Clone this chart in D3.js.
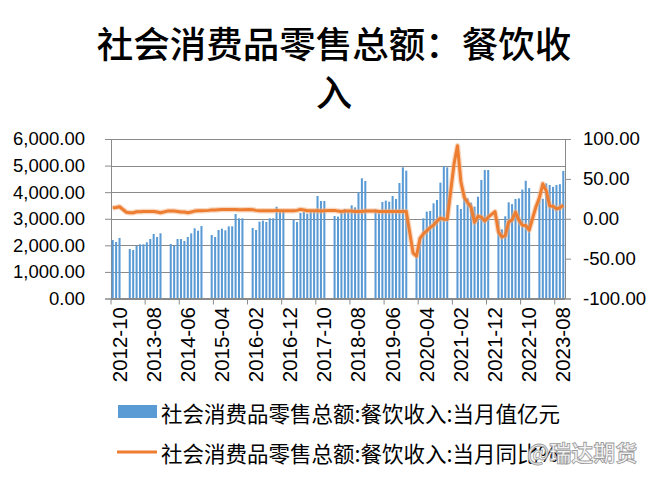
<!DOCTYPE html>
<html><head><meta charset="utf-8">
<script src="https://cdn.jsdelivr.net/npm/d3@7"></script>
<style>body{margin:0;background:#fff} svg{display:block}</style>
</head><body>
<svg id="c" width="666" height="480"></svg>
<script>
// Monthly categories 2012-10 .. 2023-10
const categories = d3.timeMonth.range(new Date(2012, 9, 1), new Date(2023, 10, 1)).map(d3.timeFormat("%Y-%m"));
const tickLabels = ["2012-10","2013-08","2014-06","2015-04","2016-02","2016-12","2017-10","2018-08","2019-06","2020-04","2021-02","2021-12","2022-10","2023-08"];
const leftTicks = [0, 1000, 2000, 3000, 4000, 5000, 6000];
const rightTicks = [-100, -50, 0, 50, 100];

// 当月值 亿元 (Jan/Feb not published as monthly values)
const monthlyValue = [
  2200, 2125, 2276,
  null, null, 1862, 1825, 1975, 2038, 2038, 2113, 2238, 2426, 2314, 2452,
  null, null, 2050, 1988, 2238, 2238, 2163, 2314, 2452, 2640, 2552, 2727,
  null, null, 2389, 2314, 2577, 2627, 2564, 2715, 2715, 3179, 3016, 3016,
  null, null, 2652, 2577, 2890, 2928, 2878, 3016, 3016, 3452, 3267, 3267,
  null, null, 2953, 2878, 3217, 3254, 3192, 3267, 3267, 3856, 3668, 3668,
  null, null, 3104, 3079, 3217, 3367, 3292, 3505, 3430, 3994, 4521, 4420,
  null, null, 3354, 3204, 3630, 3680, 3643, 3856, 3743, 4345, 4934, 4809,
  null, null, 1620, 2320, 3016, 3267, 3292, 3580, 3706, 4358, 4985, 4935,
  null, null, 3517, 3367, 3919, 3768, 3605, 3455, 3831, 4458, 4834, 4834,
  null, null, 2940, 2603, 3092, 3617, 3551, 3745, 3766, 4097, 4428, 4152,
  null, null, 3730, 3750, 4330, 4270, 4200, 4270, 4300, 4800
];
// 当月同比 %
const yoyPct = [
  13.8, 14.2, 15.1,
  null, 8.2, 7.5, 7.5, 8.8, 8.8, 9.2, 9.2, 9.2, 9.2, 8.4, 7.5,
  null, 9.6, 9.6, 9.6, 9.2, 8.4, 8.4, 7.5, 8.4, 9.6, 10.0, 10.0,
  null, 10.5, 10.9, 10.9, 11.3, 11.7, 11.7, 11.7, 11.7, 11.7, 11.3, 11.3,
  null, 11.7, 11.3, 10.5, 10.0, 10.0, 10.0, 10.0, 10.0, 10.5, 10.0, 10.0,
  null, 10.0, 10.0, 10.5, 11.7, 10.9, 10.0, 10.0, 10.0, 10.0, 9.6, 10.0,
  null, 10.5, 10.5, 9.6, 9.2, 9.6, 9.6, 9.6, 9.2, 9.2, 9.2, 9.6,
  null, 9.7, 9.6, 9.2, 9.2, 9.2, 9.2, 9.2, 9.2, 9.2, 9.2, 9.2,
  null, -43.1, -46.8, -25.0, -19.0, -15.2, -11.0, -8.0, -3.0, 0.8, -0.6, -0.6,
  null, 68.9, 91.6, 46.4, 26.6, 20.2, 14.3, -4.5, 3.1, 2.0, -2.7, 2.0,
  null, 8.9, -16.4, -22.7, -21.1, -4.0, -1.5, 8.4, -1.7, -8.1, -8.4, -14.1,
  null, 15.0, 26.3, 43.8, 35.1, 16.1, 15.8, 12.4, 13.8, 17.1
];

const barName = "社会消费品零售总额:餐饮收入:当月值亿元";
const lineName = "社会消费品零售总额:餐饮收入:当月同比%";
const titleLines = ["社会消费品零售总额：餐饮收", "入"];

const svg = d3.select("#c");
const L = 111, R = 565, T = 139, B = 298.5;
const x = d3.scaleBand().domain(categories).range([L, R]).paddingInner(0.4).paddingOuter(0.2);
const yL = d3.scaleLinear().domain([0, 6000]).range([B, T]);
const yR = d3.scaleLinear().domain([-100, 100]).range([B, T]);
const gridC = "#8a8a8a";

// title
svg.append("g").selectAll("text").data(titleLines).join("text")
  .attr("x", 334).attr("y", (d, i) => 58 + i * 48)
  .attr("text-anchor", "middle")
  .style("font-family", "'Noto Sans CJK SC'").style("font-size", "36.5px").style("font-weight", 500)
  .attr("fill", "#000").text(d => d);

// gridlines
svg.append("g").selectAll("line").data(leftTicks).join("line")
  .attr("x1", L).attr("x2", R).attr("y1", d => Math.round(yL(d)) + 0.5).attr("y2", d => Math.round(yL(d)) + 0.5)
  .attr("stroke", gridC).attr("stroke-width", 1);

// left axis
const gl = svg.append("g").attr("transform", `translate(${L},0)`)
  .call(d3.axisLeft(yL).tickValues(leftTicks).tickFormat(d3.format(",.2f")).tickSize(6).tickPadding(20));
gl.select(".domain").attr("stroke", gridC);
gl.selectAll(".tick line").attr("stroke", gridC);
gl.selectAll("text").style("font-family", "'Liberation Sans', Arial").style("font-size", "18.5px").attr("fill", "#000");

// right axis
const gr = svg.append("g").attr("transform", `translate(${R},0)`)
  .call(d3.axisRight(yR).tickValues(rightTicks).tickFormat(d3.format(".2f")).tickSize(6).tickPadding(12));
gr.select(".domain").attr("stroke", gridC);
gr.selectAll(".tick line").attr("stroke", gridC);
gr.selectAll("text").style("font-family", "'Liberation Sans', Arial").style("font-size", "18.6px").attr("fill", "#000")
  .text(d => d3.format(".2f")(d).replace("−", "-"));

// bars
const barData = categories.map((c, i) => ({c, v: monthlyValue[i]})).filter(d => d.v != null);
svg.append("g").selectAll("rect").data(barData).join("rect")
  .attr("x", d => x(d.c)).attr("width", x.bandwidth())
  .attr("y", d => yL(d.v)).attr("height", d => yL(0) - yL(d.v))
  .attr("fill", "#5B9BD5");

// bottom axis
svg.append("line").attr("x1", L).attr("x2", R).attr("y1", B).attr("y2", B).attr("stroke", gridC);
const bx = c => x(c) + x.bandwidth() / 2 - x.step() / 2;
const gx = svg.append("g");
gx.selectAll("line").data(tickLabels).join("line")
  .attr("x1", d => bx(d)).attr("x2", d => bx(d)).attr("y1", B).attr("y2", B + 6).attr("stroke", gridC);
gx.selectAll("text").data(tickLabels).join("text")
  .attr("transform", d => `translate(${bx(d) + 8},307) rotate(-90)`)
  .attr("text-anchor", "end").attr("dominant-baseline", "central")
  .style("font-family", "'Liberation Sans', Arial").style("font-size", "20.5px").attr("fill", "#000")
  .text(d => d);

// line
const lineData = categories.map((c, i) => ({c, v: yoyPct[i]})).filter(d => d.v != null);
const line = d3.line().x(d => x(d.c) + x.bandwidth() / 2).y(d => yR(d.v));
svg.append("path").datum(lineData).attr("d", line).attr("fill", "none")
  .attr("stroke", "#F4B183").attr("stroke-opacity", 0.5).attr("stroke-width", 5.5).attr("stroke-linejoin", "round");
svg.append("path").datum(lineData).attr("d", line).attr("fill", "none")
  .attr("stroke", "#ED7D31").attr("stroke-width", 3).attr("stroke-linejoin", "round");

// legend
const lg = svg.append("g");
lg.append("rect").attr("x", 118).attr("y", 405).attr("width", 39).attr("height", 13).attr("fill", "#5B9BD5");
lg.append("line").attr("x1", 117).attr("x2", 157).attr("y1", 452).attr("y2", 452).attr("stroke", "#ED7D31").attr("stroke-width", 3);
lg.selectAll("text").data([barName, lineName]).join("text")
  .attr("x", 161).attr("y", (d, i) => 412 + i * 40).attr("dominant-baseline", "central")
  .style("font-family", "'Noto Sans CJK SC'").style("font-size", "21.5px").attr("fill", "#000")
  .text(d => d);

// watermark
svg.append("text").attr("x", 527).attr("y", 451).attr("dominant-baseline", "central")
  .style("font-family", "'Noto Sans CJK SC'").style("font-size", "22px").style("font-weight", 700)
  .attr("fill", "#f2f2f2").attr("fill-opacity", 0.92).attr("stroke", "#9a9a9a").attr("stroke-width", 0.8)
  .text("@瑞达期货");
</script>
</body></html>
